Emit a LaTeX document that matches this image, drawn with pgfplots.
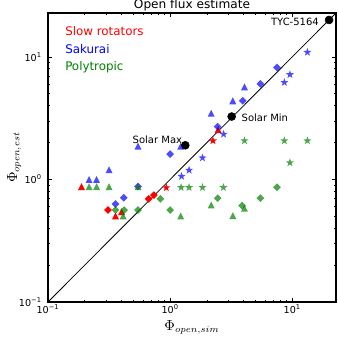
\documentclass[border=0pt]{standalone}
\usepackage{fontspec}
\setmainfont{DejaVu Sans}
\usepackage{pgfplots}
\pgfplotsset{compat=1.18}
\pgfdeclareplotmark{D}{%
  \pgfpathmoveto{\pgfqpoint{0pt}{\pgfplotmarksize}}%
  \pgfpathlineto{\pgfqpoint{\pgfplotmarksize}{0pt}}%
  \pgfpathlineto{\pgfqpoint{0pt}{-\pgfplotmarksize}}%
  \pgfpathlineto{\pgfqpoint{-\pgfplotmarksize}{0pt}}%
  \pgfpathclose\pgfusepathqfill}
\pgfdeclareplotmark{T}{%
  \pgfpathmoveto{\pgfqpoint{0pt}{\pgfplotmarksize}}%
  \pgfpathlineto{\pgfqpoint{\pgfplotmarksize}{-\pgfplotmarksize}}%
  \pgfpathlineto{\pgfqpoint{-\pgfplotmarksize}{-\pgfplotmarksize}}%
  \pgfpathclose\pgfusepathqfill}
\pgfdeclareplotmark{S}{%
  \pgfpathmoveto{\pgfpointpolar{90}{\pgfplotmarksize}}%
  \pgfpathlineto{\pgfpointpolar{126}{0.4\pgfplotmarksize}}%
  \pgfpathlineto{\pgfpointpolar{162}{\pgfplotmarksize}}%
  \pgfpathlineto{\pgfpointpolar{198}{0.4\pgfplotmarksize}}%
  \pgfpathlineto{\pgfpointpolar{234}{\pgfplotmarksize}}%
  \pgfpathlineto{\pgfpointpolar{270}{0.4\pgfplotmarksize}}%
  \pgfpathlineto{\pgfpointpolar{306}{\pgfplotmarksize}}%
  \pgfpathlineto{\pgfpointpolar{342}{0.4\pgfplotmarksize}}%
  \pgfpathlineto{\pgfpointpolar{18}{\pgfplotmarksize}}%
  \pgfpathlineto{\pgfpointpolar{54}{0.4\pgfplotmarksize}}%
  \pgfpathclose\pgfusepathqfill}
\definecolor{mgreen}{RGB}{0,128,0}
\begin{document}
\begin{tikzpicture}
\path[use as bounding box] (-36pt,-27pt) rectangle (217.5pt,226.5pt);
\begin{axis}[
  at={(0,0)}, anchor=south west,
  scale only axis, width=216pt, height=216.75pt,
  xmode=log, ymode=log,
  xmin=0.1, xmax=22.8, ymin=0.1, ymax=22.8,
  clip=false,
  axis line style={line width=0.9pt},
  major tick length=3pt, minor tick length=1.6pt,
  every tick/.style={black, line width=0.5pt},
  xtick={0.1,1,10}, ytick={0.1,1,10},
  xticklabels={10\textsuperscript{−1},10\textsuperscript{0},10\textsuperscript{1}},
  yticklabels={10\textsuperscript{−1},10\textsuperscript{0},10\textsuperscript{1}},
  tick label style={font=\fontsize{7.2}{8}\selectfont},
  xticklabel style={inner sep=0pt, yshift=-2pt},
  yticklabel style={inner sep=0pt, xshift=-4.5pt},
  every axis title/.style={at={(axis description cs:0.5,1)}, anchor=south, inner sep=0pt, yshift=1.2pt, font=\fontsize{9.1}{10}\selectfont},
  title={Open flux estimate},
  every axis x label/.style={at={(axis description cs:0.5,-0.0623)}, anchor=north, inner sep=0pt, font=\fontsize{10.5}{12}\selectfont},
  every axis y label/.style={at={(axis description cs:-0.1424,0.5)}, anchor=north, rotate=90, inner sep=0pt, font=\fontsize{10.5}{12}\selectfont},
  xlabel={$\Phi_{open,sim}$},
  ylabel={$\Phi_{open,est}$},
]
% Slow rotators
\addplot[only marks, mark=T, mark size=2.6pt, red] coordinates {(0.188,0.873) (0.357,0.504) (0.40,0.546) (2.47,2.55)};
\addplot[only marks, mark=D, mark size=2.9pt, red] coordinates {(0.31,0.563) (0.667,0.693) (0.736,0.746)};
\addplot[only marks, mark=S, mark size=3.2pt, red] coordinates {(0.93,0.857) (2.24,2.07)};
% Sakurai
\addplot[only marks, mark=T, mark size=2.6pt, blue, opacity=0.7] coordinates {(0.217,1.0) (0.25,1.0) (0.316,1.2) (0.546,1.87) (1.22,1.87) (2.17,3.47) (3.26,4.38) (4.06,5.69)};
\addplot[only marks, mark=D, mark size=2.9pt, blue, opacity=0.7] coordinates {(0.357,0.63) (0.417,0.709) (0.546,0.877) (1.0,1.61) (2.45,2.70) (3.93,4.38) (5.48,6.03) (7.50,8.18)};
\addplot[only marks, mark=S, mark size=3.2pt, blue, opacity=0.7] coordinates {(1.24,1.06) (1.43,1.19) (1.84,1.50) (2.74,2.34) (8.61,6.19) (9.57,7.17) (13.3,10.9)};
% Polytropic
\addplot[only marks, mark=T, mark size=2.6pt, mgreen, opacity=0.7] coordinates {(0.217,0.873) (0.25,0.873) (0.316,0.873) (0.546,0.873) (0.412,0.504) (1.22,0.504) (2.17,0.619) (3.26,0.507) (4.06,0.582)};
\addplot[only marks, mark=D, mark size=2.9pt, mgreen, opacity=0.7] coordinates {(0.357,0.563) (0.42,0.563) (0.546,0.563) (0.832,0.693) (1.0,0.563) (2.45,0.703) (3.88,0.611) (5.48,0.703) (7.50,0.863)};
\addplot[only marks, mark=S, mark size=3.2pt, mgreen, opacity=0.7] coordinates {(1.23,0.86) (1.43,0.86) (1.84,0.86) (2.73,0.86) (4.06,2.07) (8.61,2.07) (13.3,2.07) (9.57,1.37)};
% one-to-one line
\addplot[black, line width=0.6pt, no marks] coordinates {(0.1,0.1) (22.8,22.8)};
% reference stars
\addplot[only marks, mark=*, mark size=3pt, black] coordinates {(1.33,1.90) (3.19,3.26) (20,20)};
\node[anchor=base east, font=\fontsize{7.5}{8}\selectfont, inner sep=0pt, xshift=-2.2pt, yshift=1.2pt] at (axis cs:1.33,1.90) {Solar Max};
\node[anchor=base west, font=\fontsize{7.5}{8}\selectfont, inner sep=0pt, xshift=7.3pt, yshift=-3.5pt] at (axis cs:3.19,3.26) {Solar Min};
\node[anchor=base east, font=\fontsize{7.5}{8}\selectfont, inner sep=0pt, xshift=-7.5pt, yshift=-4.3pt] at (axis cs:20,20) {TYC-5164};
\node[anchor=base west, font=\fontsize{8.9}{10}\selectfont, inner sep=0pt, text=red] at (rel axis cs:0.059,0.923) {Slow rotators};
\node[anchor=base west, font=\fontsize{8.9}{10}\selectfont, inner sep=0pt, text=blue] at (rel axis cs:0.059,0.861) {Sakurai};
\node[anchor=base west, font=\fontsize{8.9}{10}\selectfont, inner sep=0pt, text=mgreen] at (rel axis cs:0.059,0.800) {Polytropic};
\end{axis}
\end{tikzpicture}
\end{document}
